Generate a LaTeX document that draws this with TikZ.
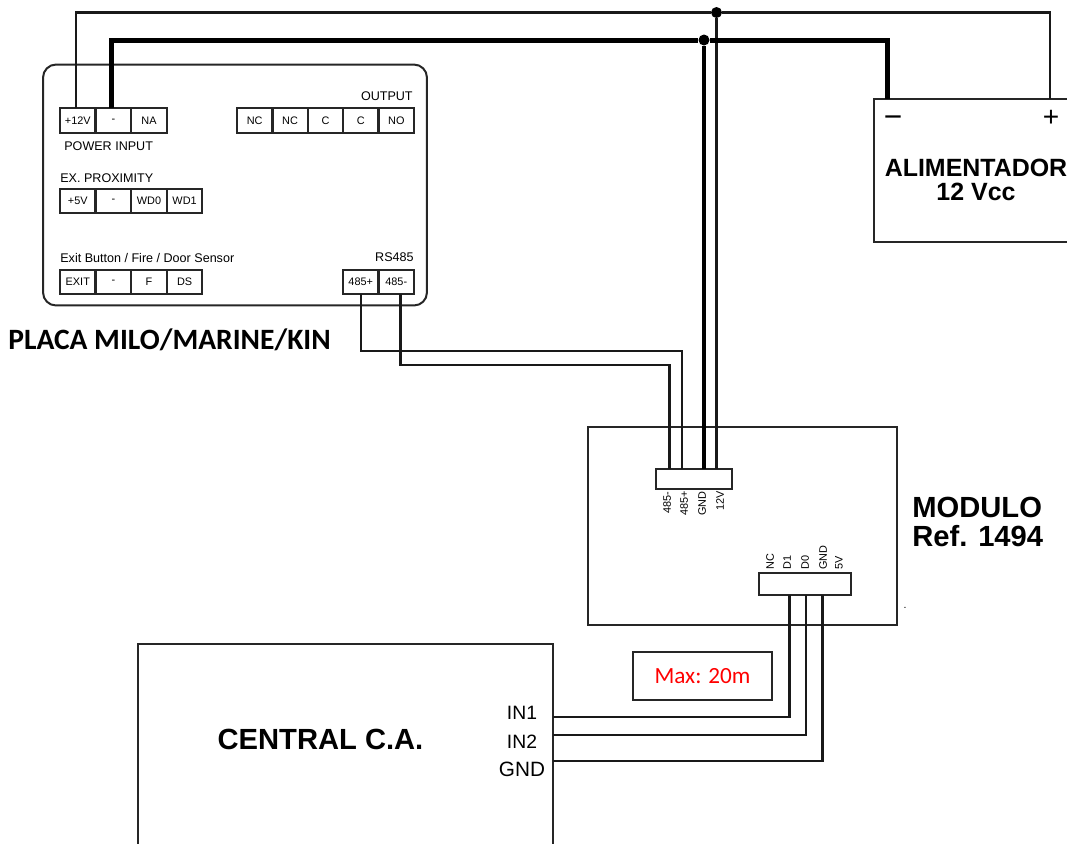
\documentclass[tikz,border=0pt]{standalone}
\usepackage{fontspec}
\setmainfont{Liberation Sans}
\newfontfamily\carlitofont{Carlito}
\newcommand{\fsize}[1]{\fontsize{#1}{#1}\selectfont}
\tikzset{
    box/.style={draw=black!85,line width=0.035cm,inner sep=0,outer sep=0},
    cell/.style={draw=black!85,line width=0.045cm,inner sep=0,outer sep=0,minimum width=0.71cm,minimum height=0.49cm,font=\fsize{6.2pt}},
    header/.style={draw=black!85,line width=0.04cm,inner sep=0,outer sep=0,minimum height=0.41cm},
    caption/.style={inner sep=0,font=\fsize{7.15pt}},
    pinname/.style={inner sep=0,rotate=90,font=\fsize{6.2pt}},
    bigname/.style={inner sep=0,font=\fsize{16.6pt}\bfseries,align=center},
    inname/.style={inner sep=0,font=\fsize{11pt}},
    wire/.style={black!90,line width=0.052cm},
    thickwire/.style={black,line width=0.1cm},
    joint/.style={circle,fill=black,inner sep=0,minimum size=0.22cm}
}
\begin{document}
\begin{tikzpicture}[x=0.02cm,y=-0.02cm]
        \clip (0,0) rectangle (1067,843);
        %% Boxes
        \node[box,line width=0.04cm,rounded corners=0.26cm,minimum width=7.68cm,minimum height=4.82cm] (board) at (235,185) {};
        \node[box,minimum width=4.2cm,minimum height=2.86cm] (supply) at (979,170.5) {};
        \node[box,minimum width=6.18cm,minimum height=3.96cm] (module) at (742.5,526) {};
        \node[box,minimum width=8.3cm,minimum height=5.2cm] (central) at (345.5,774) {};
        \node[box,line width=0.04cm,minimum width=2.78cm,minimum height=0.96cm,text=red,font=\carlitofont\fsize{13.2pt}] (limit) at (702.5,676) {Max: 20m};
        %% Terminals
        \foreach \i/\lbl in {1/+12V,2/-,3/NA} {
            \node[cell] (pow\i) at ({60+35.6*(\i-0.5)},120.5) {\lbl};
        }
        \foreach \i/\lbl in {1/NC,2/NC,3/C,4/C,5/NO} {
            \node[cell] (out\i) at ({237+35.4*(\i-0.5)},120.5) {\lbl};
        }
        \foreach \i/\lbl in {1/+5V,2/-,3/WD0,4/WD1} {
            \node[cell] (prox\i) at ({60+35.6*(\i-0.5)},201) {\lbl};
        }
        \foreach \i/\lbl in {1/EXIT,2/-,3/F,4/DS} {
            \node[cell] (exit\i) at ({60+35.6*(\i-0.5)},282) {\lbl};
        }
        \foreach \i/\lbl in {1/485+,2/485-} {
            \node[cell] (rs\i) at ({343+35.5*(\i-0.5)},282) {\lbl};
        }
        %% Terminal captions
        \node[caption,anchor=east] (outcap) at (413,96) {OUTPUT};
        \node[caption,anchor=west] (powcap) at (64,146.5) {POWER INPUT};
        \node[caption,anchor=west] (proxcap) at (60,178) {EX. PROXIMITY};
        \node[caption,anchor=west] (exitcap) at (60,257.5) {Exit Button / Fire / Door Sensor};
        \node[caption,anchor=east] (rscap) at (414,257.5) {RS485};
        %% Module headers
        \node[header,minimum width=1.52cm] (hdrtop) at (694,479) {};
        \node[header,minimum width=1.84cm,minimum height=0.44cm] (hdrbot) at (805,584) {};
        \node[pinname,anchor=east] (nrsm) at (667,491) {485-};
        \node[pinname,anchor=east] (nrsp) at (684,491) {485+};
        \node[pinname,anchor=east] (ngnd) at (702,491) {GND};
        \node[pinname,anchor=east] (nvcc) at (720,491) {12V};
        \node[pinname,anchor=west] (nnc) at (770,570) {NC};
        \node[pinname,anchor=west] (nd1) at (787,570) {D1};
        \node[pinname,anchor=west] (nd0) at (805,570) {D0};
        \node[pinname,anchor=west] (ngnb) at (823,570) {GND};
        \node[pinname,anchor=west] (n5v) at (839,570) {5V};
        %% Names
        \node[inner sep=0,font=\carlitofont\fsize{16.8pt}\bfseries,anchor=west] (boardname) at (8,340) {PLACA MILO/MARINE/KIN};
        \node[bigname,font=\fsize{14.2pt}\bfseries] (supplyname) at (976,179.5) {ALIMENTADOR\\[-0.5pt]12 Vcc};
        \node[inner sep=0,font=\fsize{18pt}] (minus) at (893,122) {\char"2212};
        \node[inner sep=0,font=\fsize{16pt}] (plus) at (1051,118) {+};
        \node[bigname,align=left,anchor=west] (modname) at (912,522) {MODULO\\Ref. 1494};
        \node[bigname] (centralname) at (320.5,739) {CENTRAL C.A.};
        \node[inname] (in1) at (522,713) {IN1};
        \node[inname] (in2) at (522,742) {IN2};
        \node[inname,font=\fsize{11.8pt}] (ingnd) at (522,769) {GND};
        \node[inner sep=0,font=\fsize{6pt}] (speck) at (905,608) {.};
        %% Junctions
        \node[joint] (jvcc) at (716.5,12.5) {};
        \node[joint] (jgnd) at (704,40) {};
        %% Wire ends
        \coordinate (pvcc) at (76,108);
        \coordinate (pgnd) at (111,108);
        \coordinate (smin) at (887,99);
        \coordinate (splus) at (1050,99);
        \coordinate (rsa) at (361,294);
        \coordinate (rsb) at (400.5,294);
        \coordinate (ma) at (669.5,469);
        \coordinate (mb) at (682,469);
        \coordinate (mc) at (704,469);
        \coordinate (md) at (716.5,469);
        \coordinate (bd1) at (789.5,595);
        \coordinate (bd0) at (806,595);
        \coordinate (bgnd) at (822.5,595);
        \coordinate (c1) at (553,717);
        \coordinate (c2) at (553,735);
        \coordinate (c3) at (553,761);
        %% Power
        \draw[wire] (pvcc) |- (jvcc) -| (splus);
        \draw[wire] (jvcc) -- (md);
        \draw[thickwire] (pgnd) |- (jgnd) -| (smin);
        \draw[thickwire,line width=0.09cm] (jgnd) -- (mc);
        %% RS485
        \draw[wire] (rsa) -- (rsa |- 0,351) -| (mb);
        \draw[wire] (rsb) -- (rsb |- 0,365) -| (ma);
        %% Central
        \draw[wire] (bd1) |- (c1);
        \draw[wire] (bd0) |- (c2);
        \draw[wire] (bgnd) |- (c3);
    \end{tikzpicture}
\end{document}
